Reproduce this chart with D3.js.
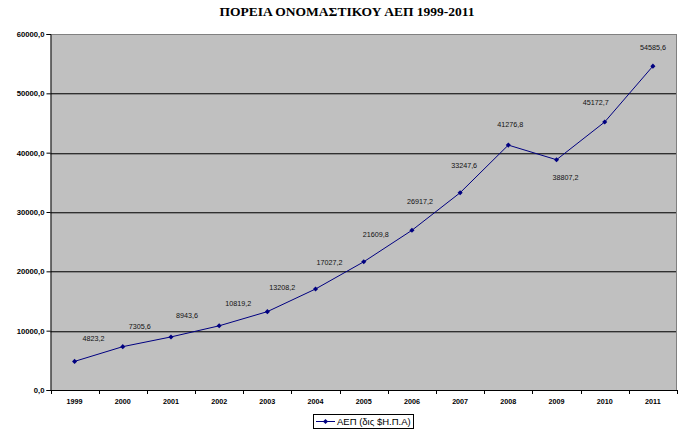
<!DOCTYPE html>
<html><head><meta charset="utf-8">
<script src="https://cdn.jsdelivr.net/npm/d3@7"></script>
<style>body{margin:0;background:#fff}svg{display:block}</style>
</head><body>
<svg id="c" width="693" height="433"></svg>
<script>
const years = ["1999","2000","2001","2002","2003","2004","2005","2006","2007","2008","2009","2010","2011"];
const gdp = [4823.2, 7305.6, 8943.6, 10819.2, 13208.2, 17027.2, 21609.8, 26917.2, 33247.6, 41276.8, 38807.2, 45172.7, 54585.6];
const yTicks = [0, 10000, 20000, 30000, 40000, 50000, 60000];
const title = "ΠΟΡΕΙΑ ΟΝΟΜΑΣΤΙΚΟΥ ΑΕΠ 1999-2011";
const seriesName = "ΑΕΠ (δις $Η.Π.Α)";

// label placement (layout only)
const labelOffsets = [[19,-22],[17,-20],[16,-21],[19,-22],[15,-24],[14,-26],[12,-27],[8,-28],[4,-27],[2,-20],[9,18],[-9,-19],[0,-18]];

const svg = d3.select("#c");
const L = 50.5, R = 677, T = 34, B = 390;
const x = d3.scaleBand().domain(years).range([L, R]);
const y = d3.scaleLinear().domain([0, 60000]).range([B, T]);
const fmt = v => d3.format(".1f")(v).replace(".", ",");

svg.append("text").attr("x", 347).attr("y", 16).attr("text-anchor", "middle")
  .attr("font-family", "Liberation Serif, Times New Roman, serif").attr("font-weight", "bold")
  .attr("font-size", 13.5).text(title);

svg.append("rect").attr("x", L).attr("y", T).attr("width", R - L).attr("height", B - T).attr("fill", "#c0c0c0");

// gridlines
const g = svg.append("g");
yTicks.filter(t => t > 0 && t < 60000).forEach(t => {
  const yy = Math.round(y(t));
  g.append("line").attr("x1", L).attr("x2", R).attr("y1", yy + 0.5).attr("y2", yy + 0.5).attr("stroke", "#303030");
  g.append("line").attr("x1", L).attr("x2", R).attr("y1", yy + 1.5).attr("y2", yy + 1.5).attr("stroke", "#8a8a8a");
});
// top & right border
svg.append("line").attr("x1", L).attr("x2", R).attr("y1", T + 0.5).attr("y2", T + 0.5).attr("stroke", "#808080");
svg.append("line").attr("x1", R - 0.5).attr("x2", R - 0.5).attr("y1", T).attr("y2", B).attr("stroke", "#808080");

// y axis
const yAxis = d3.axisLeft(y).tickValues(yTicks).tickSize(4).tickPadding(2).tickFormat(fmt);
const ya = svg.append("g").attr("transform", `translate(${L},0)`).call(yAxis);
ya.select(".domain").attr("stroke", "#000");
ya.selectAll("line").attr("stroke", "#000");
ya.selectAll("text").attr("font-family", "Liberation Sans, Arial, sans-serif").attr("font-size", 7.7).attr("font-weight", "bold").attr("fill", "#000");

// x axis
const xa = svg.append("g").attr("transform", `translate(0,${B})`);
xa.append("line").attr("x1", L).attr("x2", R).attr("y1", 0.5).attr("y2", 0.5).attr("stroke", "#000");
years.concat(["end"]).forEach((yr, i) => {
  const xx = i < years.length ? x(yr) : R;
  xa.append("line").attr("x1", Math.round(xx) + 0.5).attr("x2", Math.round(xx) + 0.5).attr("y1", 0).attr("y2", 4).attr("stroke", "#000");
});
xa.selectAll("text.xl").data(years).join("text").attr("class", "xl")
  .attr("x", d => x(d) + x.bandwidth() / 2).attr("y", 14).attr("text-anchor", "middle")
  .attr("font-family", "Liberation Sans, Arial, sans-serif").attr("font-size", 7.2).attr("font-weight", "bold").text(d => d);

// line
const cx = (d, i) => x(years[i]) + x.bandwidth() / 2;
const line = d3.line().x((d, i) => cx(d, i)).y(d => y(d));
svg.append("path").datum(gdp).attr("d", line).attr("fill", "none").attr("stroke", "#000080").attr("stroke-width", 1);

const diamond = d3.symbol().type(d3.symbolSquare).size(13);
svg.selectAll("path.m").data(gdp).join("path").attr("class", "m")
  .attr("transform", (d, i) => `translate(${cx(d, i)},${y(d)}) rotate(45)`).attr("d", diamond).attr("fill", "#000080");

svg.selectAll("text.lbl").data(gdp).join("text").attr("class", "lbl")
  .attr("x", (d, i) => cx(d, i) + labelOffsets[i][0]).attr("y", (d, i) => y(d) + labelOffsets[i][1])
  .attr("text-anchor", "middle").attr("dominant-baseline", "middle")
  .attr("font-family", "Liberation Sans, Arial, sans-serif").attr("font-size", 7.2).attr("fill", "#111").text(d => fmt(d));

// legend
const lg = svg.append("g");
lg.append("rect").attr("x", 313.5).attr("y", 414.5).attr("width", 100).attr("height", 14).attr("fill", "#fff").attr("stroke", "#000");
lg.append("line").attr("x1", 316).attr("x2", 335).attr("y1", 421.5).attr("y2", 421.5).attr("stroke", "#000080");
lg.append("path").attr("transform", "translate(325.5,421.5) rotate(45)").attr("d", diamond).attr("fill", "#000080");
lg.append("text").attr("x", 337).attr("y", 425).attr("font-family", "Liberation Sans, Arial, sans-serif").attr("font-size", 9.5).attr("fill", "#000").text(seriesName);
</script>
</body></html>
